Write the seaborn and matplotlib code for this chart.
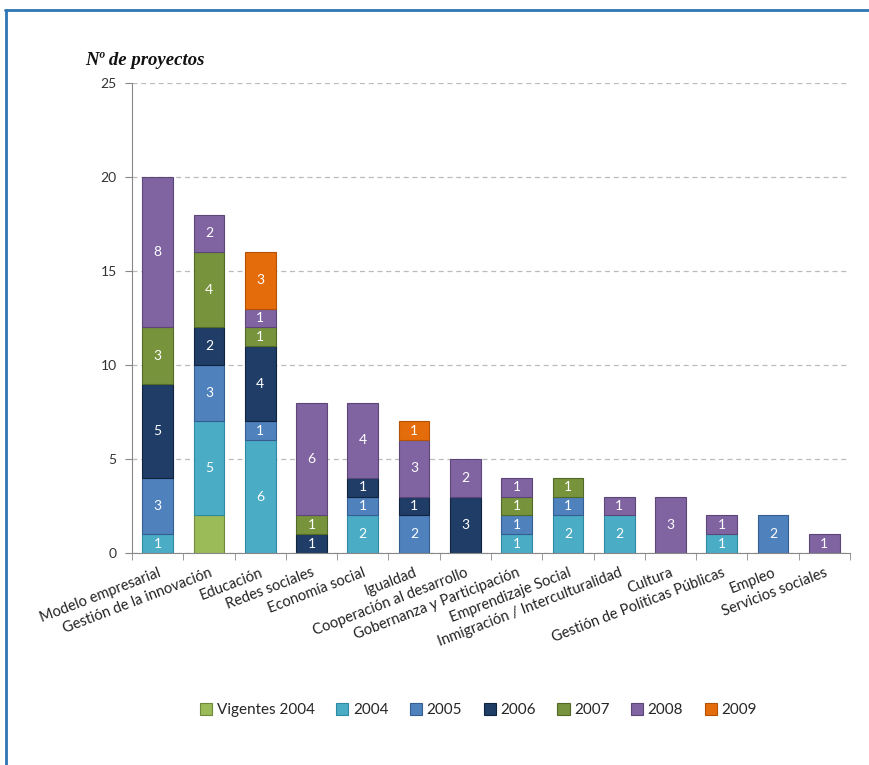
import numpy as np
import pandas as pd
import matplotlib
matplotlib.use("Agg")
import matplotlib.pyplot as plt
from matplotlib.lines import Line2D
from matplotlib.patches import Patch
import seaborn as sns

categories = ["Modelo empresarial", "Gestión de la innovación", "Educación", "Redes sociales",
              "Economía social", "Igualdad", "Cooperación al desarrollo", "Gobernanza y Participación",
              "Emprendizaje Social", "Inmigración / Interculturalidad", "Cultura",
              "Gestión de Políticas Públicas", "Empleo", "Servicios sociales"]
series_names = ["Vigentes 2004", "2004", "2005", "2006", "2007", "2008", "2009"]
vigentes_2004 = [0, 2, 0, 0, 0, 0, 0, 0, 0, 0, 0, 0, 0, 0]
y2004 = [1, 5, 6, 0, 2, 0, 0, 1, 2, 2, 0, 1, 0, 0]
y2005 = [3, 3, 1, 0, 1, 2, 0, 1, 1, 0, 0, 0, 2, 0]
y2006 = [5, 2, 4, 1, 1, 1, 3, 0, 0, 0, 0, 0, 0, 0]
y2007 = [3, 4, 1, 1, 0, 0, 0, 1, 1, 0, 0, 0, 0, 0]
y2008 = [8, 2, 1, 6, 4, 3, 2, 1, 0, 1, 3, 1, 0, 1]
y2009 = [0, 0, 3, 0, 0, 1, 0, 0, 0, 0, 0, 0, 0, 0]
yticks = [0, 5, 10, 15, 20, 25]

series_values = [vigentes_2004, y2004, y2005, y2006, y2007, y2008, y2009]
colors = ["#9BBB59", "#4BACC6", "#4F81BD", "#1F3D66", "#77933C", "#8064A2", "#E46C0A"]
edges = ["#6E8A3A", "#2E8AA3", "#365F91", "#10233F", "#536A26", "#5C4677", "#B35206"]
show_labels = [False, True, True, True, True, True, True]

sns.set_style("white")
plt.rcParams["font.family"] = ["Lato", "DejaVu Sans"]

fig = plt.figure(figsize=(8.7, 7.65), dpi=100)
ax = fig.add_axes([0.1517, 0.2771, 0.8253, 0.6144])

bottom = np.zeros(len(categories))
for name, vals, col, ec, lab in zip(series_names, series_values, colors, edges, show_labels):
    vals = np.array(vals, dtype=float)
    df = pd.DataFrame({"cat": categories, "val": vals})
    sns.barplot(data=df, x="cat", y="val", order=categories, color=col, bottom=bottom,
                width=0.6, edgecolor=ec, linewidth=0.8, saturation=1, ax=ax, errorbar=None)
    if lab:
        for i, v in enumerate(vals):
            if v > 0:
                ax.text(i, bottom[i] + v / 2, f"{int(v)}", ha="center", va="center",
                        color="white", fontsize=10)
    bottom += vals

for p in ax.patches:
    if p.get_height() == 0:
        p.set_visible(False)

ax.set_ylim(0, 25)
ax.set_xlim(-0.5, len(categories) - 0.5)
ax.set_yticks(yticks)
ax.set_yticklabels([str(t) for t in yticks], fontsize=10, color="#333333")
ax.yaxis.grid(True, linestyle=(0, (4, 3)), color="#BBBBBB", linewidth=0.9)
ax.set_axisbelow(True)
ax.set_xlabel("")
ax.set_ylabel("")
for s in ["top", "right"]:
    ax.spines[s].set_visible(False)
ax.spines["left"].set_color("#888888")
ax.spines["bottom"].set_color("#888888")
ax.tick_params(axis="y", left=True, length=5, color="#888888", pad=6)
ax.set_xticks(np.arange(len(categories)))
ax.set_xticklabels(categories, rotation=21, ha="right", rotation_mode="anchor",
                   fontsize=10.5, color="#222222")
ax.tick_params(axis="x", which="major", length=0, pad=9)
ax.set_xticks(np.arange(len(categories) + 1) - 0.5, minor=True)
ax.tick_params(axis="x", which="minor", bottom=True, length=5, color="#888888")

fig.text(0.098, 0.915, "Nº de proyectos", fontsize=13.5, fontweight="bold", fontstyle="italic",
         family="Liberation Serif", color="#111111")

handles = [Patch(facecolor=c, edgecolor=e, linewidth=0.8) for c, e in zip(colors, edges)]
fig.legend(handles, series_names, loc="center", bbox_to_anchor=(0.55, 0.072), ncol=7,
           frameon=False, fontsize=11, handlelength=0.8, handleheight=0.8,
           handletextpad=0.3, columnspacing=1.4)

fig.add_artist(Line2D([0.006, 1.0], [0.987, 0.987], color="#2E75B6", linewidth=2,
                      transform=fig.transFigure))
fig.add_artist(Line2D([0.007, 0.007], [0.0, 0.987], color="#2E75B6", linewidth=2,
                      transform=fig.transFigure))

fig.savefig("out.png", dpi=100)
